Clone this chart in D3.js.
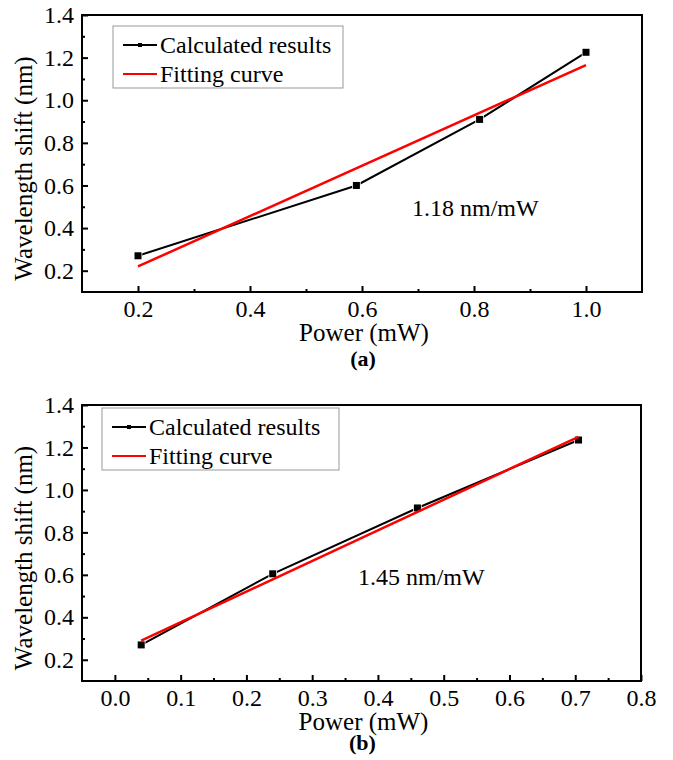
<!DOCTYPE html>
<html>
<head>
<meta charset="utf-8">
<script src="https://cdn.jsdelivr.net/npm/d3@7"></script>
<style>
    body { margin: 0; background: #fff; }
    svg text { font-family: "Liberation Serif", "DejaVu Serif", serif; fill: #000; }
</style>
</head>
<body>
<div id="chart"></div>
<script>
// Panel (a)
const powerA = [0.2, 0.59, 0.81, 1.0];
const shiftA = [0.27, 0.60, 0.91, 1.225];
const fitPowerA = [0.2, 1.0];
const fitShiftA = [0.22, 1.165];
const xTicksA = [0.2, 0.4, 0.6, 0.8, 1.0];
const xMinorA = [0.3, 0.5, 0.7, 0.9];

// Panel (b)
const powerB = [0.04, 0.24, 0.46, 0.705];
const shiftB = [0.27, 0.605, 0.915, 1.235];
const fitPowerB = [0.04, 0.705];
const fitShiftB = [0.29, 1.25];
const xTicksB = [0.0, 0.1, 0.2, 0.3, 0.4, 0.5, 0.6, 0.7, 0.8];
const xMinorB = [0.05, 0.15, 0.25, 0.35, 0.45, 0.55, 0.65, 0.75];

// shared y axis
const yTicks = [0.2, 0.4, 0.6, 0.8, 1.0, 1.2, 1.4];
const yMinor = [0.3, 0.5, 0.7, 0.9, 1.1, 1.3];

const seriesNames = ['Calculated results', 'Fitting curve'];

const svg = d3.select('#chart')
    .append('svg')
    .attr('width', 673)
    .attr('height', 760)
    .attr('font-family', '"Liberation Serif", serif');

function drawPanel(cfg) {
    const w = cfg.right - cfg.left;
    const h = cfg.bottom - cfg.top;

    const xScale = d3.scaleLinear().domain(cfg.xDomain).range([0, w]);
    const yScale = d3.scaleLinear().domain([0.1, 1.4]).range([h, 0]);

    const g = svg.append('g')
        .attr('transform', `translate(${cfg.left}, ${cfg.top})`);

    // ticks point inward, like Origin
    const xAxis = d3.axisBottom(xScale)
        .tickValues(cfg.xTicks)
        .tickSize(-6)
        .tickSizeOuter(0)
        .tickPadding(8)
        .tickFormat(d3.format('.1f'));
    const xMinorAxis = d3.axisBottom(xScale)
        .tickValues(cfg.xMinor)
        .tickSize(-3)
        .tickSizeOuter(0)
        .tickFormat('');
    const yAxis = d3.axisLeft(yScale)
        .tickValues(yTicks)
        .tickSize(-6)
        .tickSizeOuter(0)
        .tickPadding(8)
        .tickFormat(d3.format('.1f'));
    const yMinorAxis = d3.axisLeft(yScale)
        .tickValues(yMinor)
        .tickSize(-3)
        .tickSizeOuter(0)
        .tickFormat('');

    [xAxis, xMinorAxis].forEach(ax => {
        g.append('g')
            .attr('transform', `translate(0, ${h})`)
            .call(ax);
    });
    [yAxis, yMinorAxis].forEach(ax => {
        g.append('g').call(ax);
    });

    g.selectAll('.tick line').attr('stroke', '#000').attr('stroke-width', 2);
    g.selectAll('.domain').remove();
    g.selectAll('g').attr('font-family', null).attr('font-size', null);
    g.selectAll('.tick text')
        .style('font-size', '24px');

    // frame
    g.append('rect')
        .attr('width', w)
        .attr('height', h)
        .attr('fill', 'none')
        .attr('stroke', '#000')
        .attr('stroke-width', 2);

    // calculated results
    const pts = cfg.power.map((p, i) => [p, cfg.shift[i]]);
    const line = d3.line()
        .x(d => xScale(d[0]))
        .y(d => yScale(d[1]));

    g.append('path')
        .datum(pts)
        .attr('d', line)
        .attr('fill', 'none')
        .attr('stroke', '#000')
        .attr('stroke-width', 2);

    g.selectAll('.point')
        .data(pts)
        .join('rect')
        .attr('class', 'point')
        .attr('x', d => xScale(d[0]) - 3.5)
        .attr('y', d => yScale(d[1]) - 3.5)
        .attr('width', 7)
        .attr('height', 7)
        .attr('fill', '#000')
        .attr('stroke', '#fff')
        .attr('stroke-width', 1.5)
        .attr('paint-order', 'stroke');

    // fitting line
    const fit = cfg.fitPower.map((p, i) => [p, cfg.fitShift[i]]);
    g.append('path')
        .datum(fit)
        .attr('d', line)
        .attr('fill', 'none')
        .attr('stroke', '#f00')
        .attr('stroke-width', 2.5);

    // legend
    const lg = g.append('g')
        .attr('transform', `translate(${cfg.legend[0]}, ${cfg.legend[1]})`);
    lg.append('rect')
        .attr('width', cfg.legendW)
        .attr('height', 62)
        .attr('fill', '#fff')
        .attr('stroke', '#999')
        .attr('stroke-width', 1);
    seriesNames.forEach((name, i) => {
        const yy = 19 + i * 29;
        lg.append('line')
            .attr('x1', 10).attr('x2', 44)
            .attr('y1', yy).attr('y2', yy)
            .attr('stroke', i === 0 ? '#000' : '#f00')
            .attr('stroke-width', 2);
        if (i === 0) {
            lg.append('rect')
                .attr('x', 25).attr('y', yy - 2)
                .attr('width', 4).attr('height', 4)
                .attr('fill', '#000');
        }
        lg.append('text')
            .attr('x', 47)
            .attr('y', yy + 8)
            .style('font-size', '24px')
            .text(name);
    });

    // slope annotation
    g.append('text')
        .attr('x', cfg.slopePos[0])
        .attr('y', cfg.slopePos[1])
        .style('font-size', '24px')
        .text(cfg.slopeText);

    // axis titles
    g.append('text')
        .attr('x', w / 2 + 2)
        .attr('y', h + 49)
        .attr('text-anchor', 'middle')
        .style('font-size', '25px')
        .text('Power (mW)');

    g.append('text')
        .attr('transform', `translate(${-50}, ${h / 2 + 15}) rotate(-90)`)
        .attr('text-anchor', 'middle')
        .style('font-size', '25px')
        .text('Wavelength shift (nm)');

    g.append('text')
        .attr('x', w / 2 + 1)
        .attr('y', h + cfg.tagOffset)
        .attr('text-anchor', 'middle')
        .style('font-size', '22px')
        .style('font-weight', 'bold')
        .text(cfg.tag);
}

drawPanel({
    left: 82, right: 642, top: 15, bottom: 292,
    xDomain: [0.1, 1.1],
    xTicks: xTicksA, xMinor: xMinorA,
    power: powerA, shift: shiftA,
    fitPower: fitPowerA, fitShift: fitShiftA,
    legend: [31, 11], legendW: 230,
    slopeText: '1.18 nm/mW', slopePos: [330, 201],
    tag: '(a)', tagOffset: 74
});

drawPanel({
    left: 82, right: 641, top: 405, bottom: 681,
    xDomain: [-0.05, 0.8],
    xTicks: xTicksB, xMinor: xMinorB,
    power: powerB, shift: shiftB,
    fitPower: fitPowerB, fitShift: fitShiftB,
    legend: [20, 3], legendW: 237,
    slopeText: '1.45 nm/mW', slopePos: [276, 180],
    tag: '(b)', tagOffset: 69
});
</script>
</body>
</html>
